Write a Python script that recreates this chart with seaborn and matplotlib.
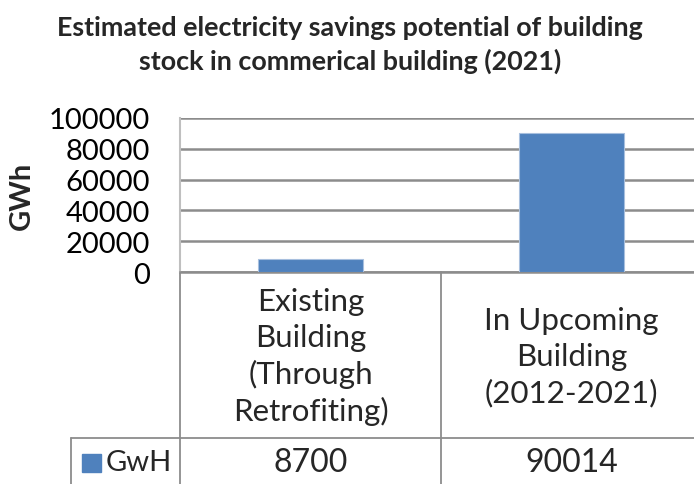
import matplotlib
matplotlib.use("Agg")
import matplotlib.pyplot as plt
import seaborn as sns
import pandas as pd
from matplotlib.transforms import blended_transform_factory

categories = ["Existing\nBuilding\n(Through\nRetrofiting)", "In Upcoming\nBuilding\n(2012-2021)"]
values = [8700, 90014]
series_name = "GwH"
yticks = [0, 20000, 40000, 60000, 80000, 100000]
title = "Estimated electricity savings potential of building\nstock in commerical building (2021)"
ylabel = "GWh"

sns.set_theme(style="white")
plt.rcParams['font.family'] = ['Lato', 'DejaVu Sans']

W, H = 694, 485
fig = plt.figure(figsize=(W / 100, H / 100), dpi=100)
L, R, T, B = 180, 702, 119, 273
ax = fig.add_axes([L / W, 1 - B / H, (R - L) / W, (B - T) / H])


def ax_x(px):
    return (px - L) / (R - L)


def ax_y(py):
    return (B - py) / (B - T)


df = pd.DataFrame({"cat": [str(i) for i in range(len(categories))], "val": values})
sns.barplot(data=df, x="cat", y="val", color="#4F81BD", width=0.4, ax=ax,
            saturation=1, edgecolor="#A7BFDE", linewidth=0.8, zorder=3)

grid_c = "#8C8C8C"
ax.set_ylim(0, 100000)
ax.set_xlim(-0.5, len(categories) - 0.5)
ax.set_yticks(yticks)
ax.set_yticklabels([str(v) for v in yticks], fontsize=21, color="black")
ax.tick_params(axis="y", length=0, pad=21.5)
ax.set_xticks([])
ax.set_xlabel("")
ax.set_ylabel(ylabel, fontsize=21, fontweight="bold", va="center")
ax.yaxis.set_label_coords(ax_x(22), 0.5)
ax.grid(axis="y", color=grid_c, linewidth=1.8, zorder=0)
for s in ["top", "right"]:
    ax.spines[s].set_visible(False)
ax.spines["left"].set_color("#BFBFBF")
ax.spines["left"].set_linewidth(1.5)
ax.spines["bottom"].set_color(grid_c)
ax.spines["bottom"].set_linewidth(1.8)

# data table lines (axes coords)
lc = "#8C8C8C"
lw = 1.3
tbl = [
    ((ax_x(180), ax_x(180)), (ax_y(273), ax_y(490))),
    ((ax_x(441), ax_x(441)), (ax_y(273), ax_y(490))),
    ((ax_x(71), ax_x(702)), (ax_y(439), ax_y(439))),
    ((ax_x(71), ax_x(71)), (ax_y(439), ax_y(490))),
]
for xs, ys in tbl:
    ax.plot(xs, ys, color=lc, linewidth=lw, transform=ax.transAxes, clip_on=False)

trans = blended_transform_factory(ax.transData, ax.transAxes)
for i, (c, v) in enumerate(zip(categories, values)):
    ax.text(i, ax_y(357), c, transform=trans, ha="center", va="center",
            fontsize=22.5, linespacing=1.34, clip_on=False)
    ax.text(i, ax_y(463), str(v), transform=trans, ha="center", va="center",
            fontsize=23, clip_on=False)

# legend key in table
ax.add_patch(plt.Rectangle((ax_x(82), ax_y(473)), ax_x(101) - ax_x(82), ax_y(455) - ax_y(473),
                           transform=ax.transAxes, color="#4F81BD", clip_on=False))
ax.text(ax_x(106), ax_y(463), series_name, transform=ax.transAxes, ha="left", va="center",
        fontsize=21, clip_on=False)

fig.text(350 / W, 1 - 45 / H, title, ha="center", va="center", fontsize=19.4,
         fontweight="bold", linespacing=1.45)

fig.savefig("out.png", dpi=100)
